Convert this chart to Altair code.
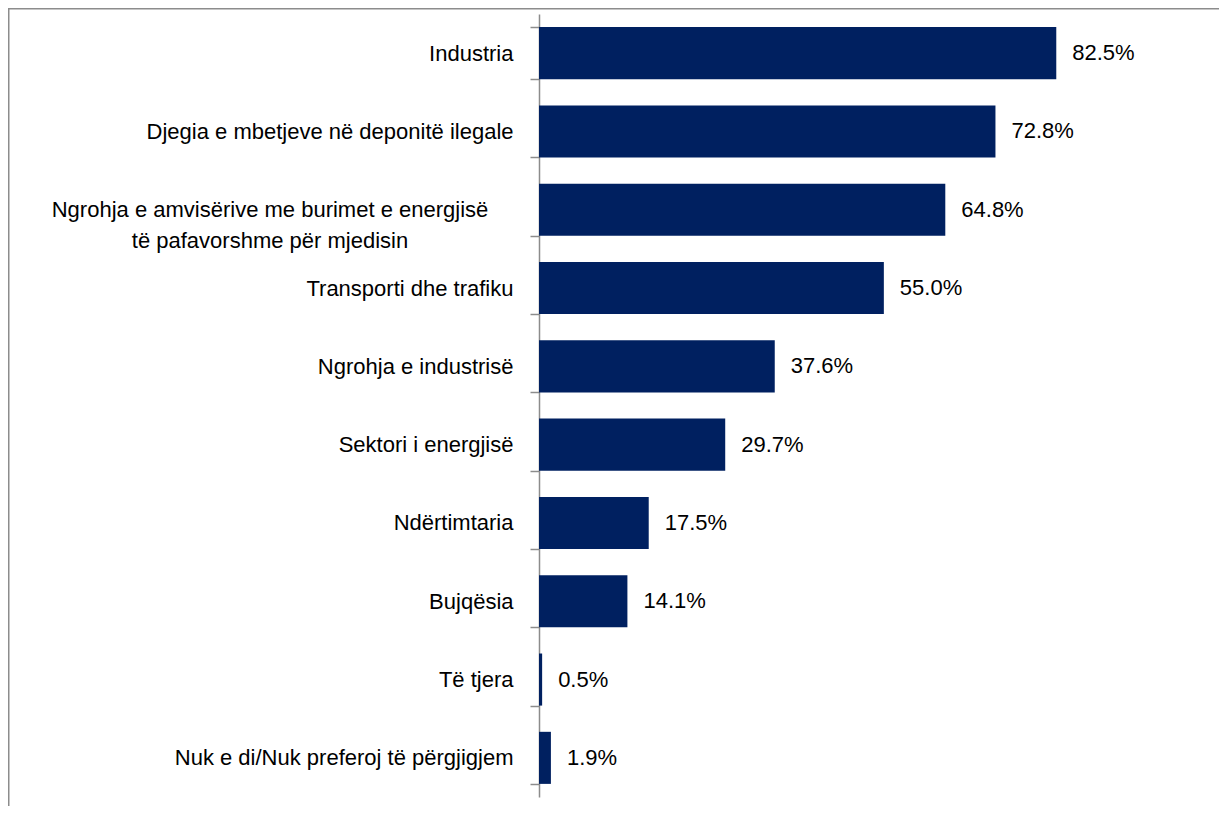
import altair as alt
import pandas as pd

categories = [
    "Industria",
    "Djegia e mbetjeve në deponitë ilegale",
    "Ngrohja e amvisërive me burimet e energjisë të pafavorshme për mjedisin",
    "Transporti dhe trafiku",
    "Ngrohja e industrisë",
    "Sektori i energjisë",
    "Ndërtimtaria",
    "Bujqësia",
    "Të tjera",
    "Nuk e di/Nuk preferoj të përgjigjem",
]
values = [82.5, 72.8, 64.8, 55.0, 37.6, 29.7, 17.5, 14.1, 0.5, 1.9]
long_label = categories[2]
long_lines = ["Ngrohja e amvisërive me burimet e energjisë", "të pafavorshme për mjedisin"]

df = pd.DataFrame({"cat": categories, "val": values})
df["lbl"] = df["val"].map(lambda v: f"{v:.1f}%")

FONT = "Liberation Sans"
FS = 22
W, H = 627, 783
PAD_L, PAD_T = 531, 6

yenc = alt.Y(
    "cat:N",
    sort=categories,
    scale=alt.Scale(paddingInner=0.335, paddingOuter=0.1675),
    axis=alt.Axis(
        title=None,
        tickBand="extent",
        domainColor="#8c8c8c",
        domainWidth=1.5,
        tickColor="#8c8c8c",
        tickWidth=1.5,
        tickSize=9,
        labelPadding=17,
        labelFont=FONT,
        labelFontSize=FS,
        labelColor="#000000",
        labelLimit=600,
        labelExpr=f"datum.value == '{long_label}' ? '' : datum.value",
    ),
)
xenc = alt.X("val:Q", scale=alt.Scale(domain=[0, 100]), axis=None)

frame = alt.Chart(pd.DataFrame({"a": [0]})).mark_rect(
    fill=None, stroke="#8c8c8c", strokeWidth=1.5
).encode(
    x=alt.value(-PAD_L + 0.75),
    x2=alt.value(W + 200),
    y=alt.value(-PAD_T + 0.75),
    y2=alt.value(H + 200),
)

bars = alt.Chart(df).mark_bar(color="#002060").encode(y=yenc, x=xenc)

texts = alt.Chart(df).mark_text(
    align="left", baseline="middle", dx=16, font=FONT, fontSize=FS, color="#000000"
).encode(y=alt.Y("cat:N", sort=categories), x="val:Q", text="lbl:N")

long_df = pd.DataFrame({"cat": [long_label], "txt": [long_lines]})
long_text = alt.Chart(long_df).mark_text(
    align="center", baseline="middle", font=FONT, fontSize=FS, color="#000000",
    lineHeight=31,
).encode(y=alt.Y("cat:N", sort=categories), x=alt.value(-269), text="txt")

chart = alt.layer(frame, bars, texts, long_text).properties(
    width=W,
    height=H,
    autosize=alt.AutoSizeParams(type="none"),
    padding={"left": PAD_L, "top": PAD_T, "right": 1211 - PAD_L - W, "bottom": 798 - PAD_T - H},
).configure_view(stroke=None)

chart.save("out.html", embed_options={"renderer": "svg", "actions": False})
